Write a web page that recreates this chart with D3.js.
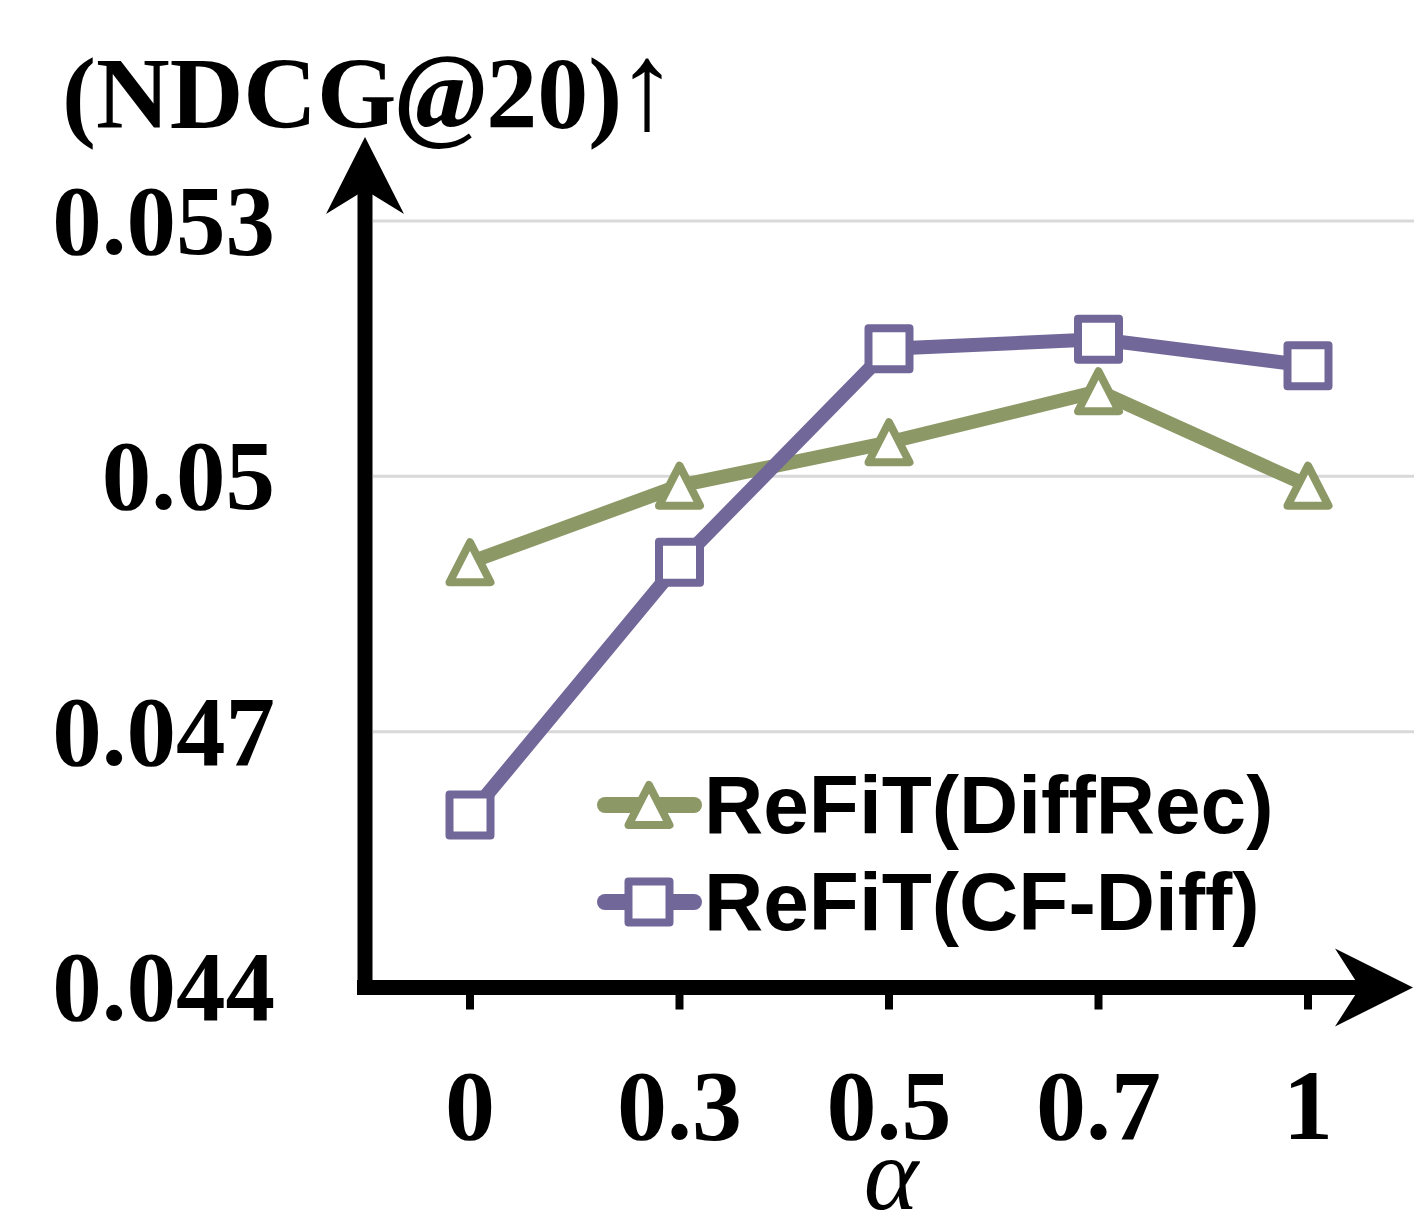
<!DOCTYPE html>
<html lang="en">
  <head>
    <title>NDCG@20 vs alpha</title>
    <script src="https://d3js.org/d3.v7.min.js"></script>
    <style>
      body { margin: 0; background: #fff; }
      .tick-label { font-family: "Liberation Serif", "Times New Roman", serif; font-weight: bold; }
      .legend-text { font-family: "Liberation Sans", Arial, sans-serif; font-weight: bold; }
    </style>
    <script>
// data
var alphas = ['0', '0.3', '0.5', '0.7', '1'];
var diffRec = [0.04899, 0.04989, 0.05040, 0.05100, 0.04989];
var cfDiff = [0.04602, 0.04899, 0.05150, 0.05161, 0.05130];
var yTicks = [0.044, 0.047, 0.05, 0.053];
var seriesNames = ['ReFiT(DiffRec)', 'ReFiT(CF-Diff)'];

var green = '#8c9966', purple = '#726799';

window.onload = () => {
  var svg = d3.select('#chart').append('svg')
      .attr('width', 1414)
      .attr('height', 1219);

  var axisX = 365, axisY = 987.5;

  var x = d3.scalePoint().domain(alphas).range([470, 1308]);
  var y = d3.scaleLinear().domain([0.044, 0.053]).range([987, 221]);

  // grid
  svg.append('g').selectAll('line')
    .data(yTicks.slice(1))
    .enter().append('line')
      .attr('x1', axisX + 8).attr('x2', 1414)
      .attr('y1', d => y(d)).attr('y2', d => y(d))
      .attr('stroke', '#d9d9d9')
      .attr('stroke-width', 3);

  // y tick labels
  svg.append('g').selectAll('text')
    .data(yTicks)
    .enter().append('text')
      .attr('class', 'tick-label')
      .attr('x', 275)
      .attr('y', d => y(d) + 33)
      .attr('text-anchor', 'end')
      .attr('font-size', 99)
      .text(d => d3.format('')(d));

  // x ticks + labels
  svg.append('g').selectAll('rect')
    .data(alphas)
    .enter().append('rect')
      .attr('x', d => x(d) - 4)
      .attr('y', axisY)
      .attr('width', 8)
      .attr('height', 22)
      .attr('fill', '#000');

  svg.append('g').selectAll('text')
    .data(alphas)
    .enter().append('text')
      .attr('class', 'tick-label')
      .attr('x', d => x(d))
      .attr('y', 1139)
      .attr('text-anchor', 'middle')
      .attr('font-size', 100)
      .text(d => d);

  // axes with arrow heads
  svg.append('line')
      .attr('x1', axisX).attr('x2', axisX)
      .attr('y1', 190).attr('y2', axisY + 7.5)
      .attr('stroke', '#000').attr('stroke-width', 15);
  svg.append('line')
      .attr('x1', axisX - 8).attr('x2', 1362)
      .attr('y1', axisY).attr('y2', axisY)
      .attr('stroke', '#000').attr('stroke-width', 15);
  svg.append('path')
      .attr('d', 'M' + axisX + ',137L' + (axisX + 39) + ',214L' + axisX + ',190L' + (axisX - 39) + ',214Z')
      .attr('fill', '#000');
  svg.append('path')
      .attr('d', 'M1413,' + axisY + 'L1335,' + (axisY - 39) + 'L1360,' + axisY + 'L1335,' + (axisY + 39) + 'Z')
      .attr('fill', '#000');

  // title
  var title = svg.append('text')
      .attr('x', 62)
      .attr('y', 128)
      .attr('font-family', '"Liberation Serif", "Times New Roman", serif')
      .attr('font-size', 102)
      .attr('font-weight', 'bold');
  title.append('tspan').text('(NDCG');
  title.append('tspan').attr('font-style', 'italic').attr('font-size', 108).text('@');
  title.append('tspan').text('20)');
  title.append('tspan').attr('font-weight', 'normal').attr('font-size', 124).attr('dx', -6).text('\u2191');

  svg.append('text')
      .attr('x', 891)
      .attr('y', 1209)
      .attr('text-anchor', 'middle')
      .attr('font-family', '"Liberation Serif", "Times New Roman", serif')
      .attr('font-style', 'italic')
      .attr('font-size', 104)
      .text('\u03b1');

  var triangle = 'M0,-20L20.5,20L-20.5,20Z';
  var square = 'M-20.5,-20.5H20.5V20.5H-20.5Z';

  var series = [
    {name: seriesNames[0], values: diffRec, color: green, shape: triangle},
    {name: seriesNames[1], values: cfDiff, color: purple, shape: square}
  ];

  var line = d3.line()
      .x((d, i) => x(alphas[i]))
      .y(d => y(d));

  series.forEach(function(s) {
    svg.append('path')
        .datum(s.values)
        .attr('d', line)
        .attr('fill', 'none')
        .attr('stroke', s.color)
        .attr('stroke-width', 14)
        .attr('stroke-linejoin', 'round');

    svg.append('g').selectAll('path')
      .data(s.values)
      .enter().append('path')
        .attr('d', s.shape)
        .attr('transform', (d, i) => 'translate(' + x(alphas[i]) + ',' + y(d) + ')')
        .attr('fill', '#fff')
        .attr('stroke', s.color)
        .attr('stroke-width', 8)
        .attr('stroke-linejoin', 'round');
  });

  // legend
  var legend = svg.append('g').selectAll('g')
    .data(series)
    .enter().append('g')
      .attr('transform', (d, i) => 'translate(0,' + (805 + i * 97) + ')');

  legend.append('line')
      .attr('x1', 605).attr('x2', 694)
      .attr('y1', 0).attr('y2', 0)
      .attr('stroke', d => d.color)
      .attr('stroke-width', 16)
      .attr('stroke-linecap', 'round');
  legend.append('path')
      .attr('d', d => d.shape)
      .attr('transform', 'translate(649,0)')
      .attr('fill', '#fff')
      .attr('stroke', d => d.color)
      .attr('stroke-width', 8)
      .attr('stroke-linejoin', 'round');
  legend.append('text')
      .attr('class', 'legend-text')
      .attr('x', 704)
      .attr('y', 28)
      .attr('font-size', 82)
      .text(d => d.name);
};
    </script>
  </head>
  <body>
    <div id="chart"></div>
  </body>
</html>
